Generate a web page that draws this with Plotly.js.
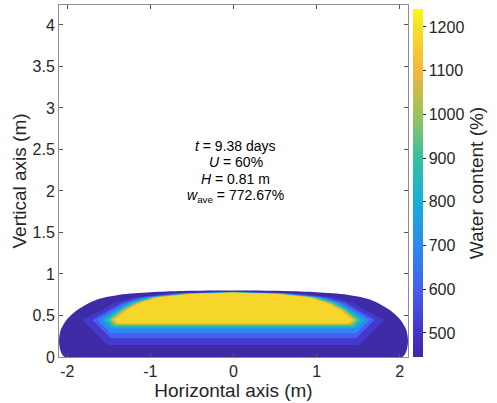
<!DOCTYPE html>
<html><head><meta charset="utf-8">
<script src="https://cdn.plot.ly/plotly-3.0.1.min.js"></script>
<style>html,body{margin:0;padding:0;background:#fff}#plot{width:497px;height:403px}</style>
</head><body><div id="plot"></div>
<script>
// Right-half contour boundary profiles (symmetric about x = 0), from top centre round to bottom centre
const levelNames = ["min", "500", "600", "700", "800", "900", "1000", "1100", "1200"];
const x0 = [0, 0.6, 1.0, 1.37, 1.65, 1.88, 2.01, 2.08, 2.1, 2.08, 2.03, 0];
const y0 = [0.80, 0.795, 0.78, 0.75, 0.69, 0.566, 0.446, 0.325, 0.19, 0.07, 0, 0];
const x1 = [0, 0.7, 1.2, 1.44, 1.58, 1.82, 1.515, 0];
const y1 = [0.79, 0.77, 0.72, 0.65, 0.566, 0.45, 0.145, 0.145];
const x2 = [0, 0.64, 1.11, 1.344, 1.49, 1.70, 1.475, 0];
const y2 = [0.785, 0.767, 0.72, 0.65, 0.566, 0.45, 0.225, 0.225];
const x3 = [0, 0.61, 1.06, 1.29, 1.44, 1.64, 1.475, 0];
const y3 = [0.783, 0.766, 0.72, 0.65, 0.566, 0.45, 0.285, 0.285];
const x4 = [0, 0.58, 1.02, 1.25, 1.40, 1.58, 1.475, 0];
const y4 = [0.781, 0.764, 0.72, 0.65, 0.566, 0.45, 0.345, 0.345];
const x5 = [0, 0.56, 0.99, 1.22, 1.37, 1.53, 1.445, 0];
const y5 = [0.779, 0.763, 0.72, 0.65, 0.566, 0.45, 0.365, 0.365];
const x6 = [0, 0.54, 0.96, 1.18, 1.34, 1.49, 1.425, 0];
const y6 = [0.778, 0.762, 0.72, 0.65, 0.566, 0.45, 0.385, 0.385];
const x7 = [0, 0.52, 0.93, 1.15, 1.31, 1.46, 1.405, 0];
const y7 = [0.776, 0.761, 0.72, 0.65, 0.566, 0.45, 0.395, 0.395];
const x8 = [0, 0.5, 0.9, 1.12, 1.28, 1.43, 1.386, 0];
const y8 = [0.775, 0.76, 0.72, 0.65, 0.566, 0.45, 0.406, 0.406];
const bandColors = ["#3e2ba6", "#4538cc", "#4560ef", "#2f88f2", "#14afd6", "#35c0a0", "#9ac35a", "#f3b73c", "#f6d62a"];

// colour bar
const cbMin = 445, cbMax = 1241;
const cbTicks = [500, 600, 700, 800, 900, 1000, 1100, 1200];
const xTicks = [-2, -1, 0, 1, 2];
const yTicks = [0, 0.5, 1, 1.5, 2, 2.5, 3, 3.5, 4];
const infoLines = ["<i>t</i> = 9.38 days", "<i>U</i> = 60%", "<i>H</i> = 0.81 m", "<i>w</i><sub>ave</sub> = 772.67%"];

const parula = [
  [0.000, "#3e26a8"], [0.069, "#4433c8"], [0.195, "#4560ef"], [0.320, "#2f88f2"],
  [0.446, "#14afd6"], [0.572, "#35c0a0"], [0.697, "#9ac35a"], [0.823, "#f3b73c"],
  [0.948, "#f6e026"], [1.000, "#f9fb0e"]
];

const XS = [x0, x1, x2, x3, x4, x5, x6, x7, x8];
const YS = [y0, y1, y2, y3, y4, y5, y6, y7, y8];
const FONT = "Liberation Sans, Arial, Helvetica, sans-serif";
const traces = XS.map((xr, i) => {
  const yr = YS[i];
  const xl = xr.slice().reverse().map(v => -v);
  const yl = yr.slice().reverse();
  return {
    type: "scatter", mode: "lines", name: levelNames[i],
    x: xr.concat(xl), y: yr.concat(yl),
    fill: "toself", fillcolor: bandColors[i],
    line: {width: 0, color: bandColors[i], shape: i === 0 ? "spline" : "linear", smoothing: 0.8},
    hoverinfo: "skip", showlegend: false
  };
});
traces.push({
  type: "scatter", mode: "markers", x: [-10, -10], y: [-10, -10], showlegend: false,
  hoverinfo: "skip",
  marker: {
    color: [cbMin, cbMax], cmin: cbMin, cmax: cbMax, colorscale: parula, showscale: true, size: 1,
    colorbar: {
      x: 1.0143, xanchor: "left", xref: "paper", xpad: 0, ypad: 0,
      y: 0.4943, yanchor: "middle",
      len: 0.9886, lenmode: "fraction", thickness: 10, thicknessmode: "pixels",
      outlinewidth: 0, ticks: "outside", ticklen: 3, tickcolor: "#262626",
      tickvals: cbTicks, ticktext: cbTicks.map(String),
      tickfont: {family: FONT, size: 16, color: "#262626"},
      title: {text: "Water content (%)", side: "right", font: {family: FONT, size: 19, color: "#262626"}}
    }
  }
});

const annotations = infoLines.map((t, i) => ({
  x: 0.03, y: [2.54, 2.345, 2.15, 1.94][i], xref: "x", yref: "y",
  text: t, showarrow: false, xanchor: "center", yanchor: "middle",
  font: {family: FONT, size: 14, color: "#000"}
}));

const axisCommon = {
  showgrid: false, zeroline: false, showline: true, mirror: "ticks",
  linecolor: "#8c8c8c", linewidth: 1, ticks: "inside", ticklen: 4, tickcolor: "#555",
  tickfont: {family: FONT, size: 16, color: "#262626"}
};
const layout = {
  width: 497, height: 403,
  margin: {l: 59, r: 89, t: 5, b: 46, autoexpand: false},
  paper_bgcolor: "#fff", plot_bgcolor: "#fff",
  showlegend: false,
  xaxis: Object.assign({}, axisCommon, {
    range: [-2.1, 2.1], tickvals: xTicks, ticktext: xTicks.map(String),
    title: {text: "Horizontal axis (m)", font: {family: FONT, size: 19, color: "#262626"}, standoff: 2}
  }),
  yaxis: Object.assign({}, axisCommon, {
    range: [0, 4.24], tickvals: yTicks, ticktext: yTicks.map(String),
    title: {text: "Vertical axis (m)", font: {family: FONT, size: 19, color: "#262626"}, standoff: 0}
  }),
  annotations: annotations
};
Plotly.newPlot("plot", traces, layout, {displayModeBar: false, staticPlot: true});
</script></body></html>
